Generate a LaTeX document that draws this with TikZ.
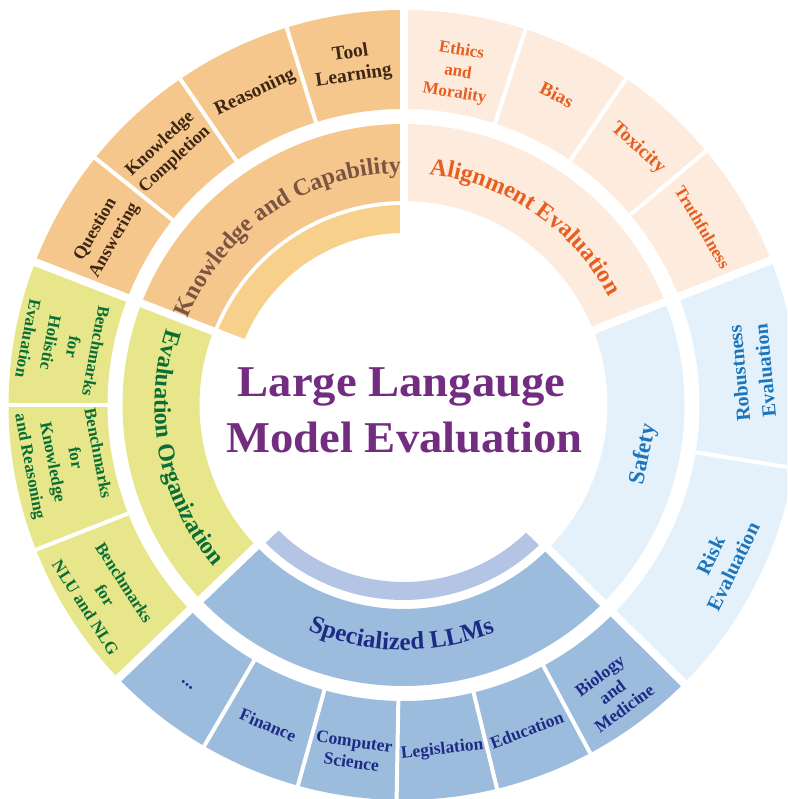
\documentclass[tikz,border=0pt]{standalone}
\usepackage{fontspec}
\setmainfont{Liberation Serif}
\usetikzlibrary{decorations.text}

\definecolor{kFill}{HTML}{F6C78C}
\definecolor{kInner}{HTML}{F7D18B}
\definecolor{kTxt}{HTML}{3E2614}
\definecolor{kMid}{HTML}{7B5442}
\definecolor{aFill}{HTML}{FDEBDD}
\definecolor{aTxt}{HTML}{E85E1F}
\definecolor{sFill}{HTML}{E4F1FA}
\definecolor{sTxt}{HTML}{1B76BE}
\definecolor{pFill}{HTML}{9CBCDE}
\definecolor{pInner}{HTML}{B3C4E5}
\definecolor{pTxt}{HTML}{1E2B86}
\definecolor{eFill}{HTML}{E8E68B}
\definecolor{eTxt}{HTML}{0A6E37}
\definecolor{titleC}{HTML}{722D80}

% annular sector: colour, start angle, end angle, inner radius, outer radius
\newcommand\annsec[5]{%
  \fill[#1] (#2:#4pt) arc[start angle=#2, end angle=#3, radius=#4pt]
    -- (#3:#5pt) arc[start angle=#3, end angle=#2, radius=#5pt] -- cycle;}
\newcommand\midfont{\bfseries\fontsize{24}{24}\selectfont}
\newcommand\specfont{\bfseries\fontsize{25}{25}\selectfont}

\begin{document}
\begin{tikzpicture}[x=1pt,y=1pt,
  lab/.style={align=center, inner sep=0pt},
  kLab/.style={lab, text=kTxt, font=\bfseries\fontsize{18}{21.5}\selectfont},
  aLab/.style={lab, text=aTxt, font=\bfseries\fontsize{17}{21.5}\selectfont},
  sLab/.style={lab, text=sTxt, font=\bfseries\fontsize{20}{26}\selectfont},
  eLab/.style={lab, text=eTxt, font=\bfseries\fontsize{17}{23}\selectfont},
  pLab/.style={lab, text=pTxt, font=\bfseries\fontsize{17.5}{20.5}\selectfont},
  titleSt/.style={inner sep=0pt, text=titleC, font=\bfseries\fontsize{44}{50}\selectfont, xscale=1.06},
  bigGap/.style={white, line width=8pt},
  smallGap/.style={white, line width=4pt}]
\useasboundingbox (-403.5,-394) rectangle (383.5,405);
\clip (-403.5,-394) rectangle (383.5,405);

% ---- rings ----
% Knowledge and Capability
\annsec{kFill}{90}{158.8}{296}{395}
\annsec{kFill}{90}{158.8}{204}{281}
\annsec{kInner}{90}{158.8}{172}{200}
% Evaluation Organization
\annsec{eFill}{158.8}{223.8}{296}{395}
\annsec{eFill}{158.8}{223.8}{204}{281}
% Specialized LLMs
\annsec{pFill}{223.8}{315.2}{296}{395}
\annsec{pFill}{223.8}{315.2}{204}{281}
\annsec{pInner}{223.8}{315.2}{177}{195}
% Safety
\annsec{sFill}{315.2}{381.5}{296}{395}
\annsec{sFill}{315.2}{381.5}{204}{281}
% Alignment Evaluation
\annsec{aFill}{21.5}{90}{296}{395}
\annsec{aFill}{21.5}{90}{204}{281}

% ---- separators ----
\foreach \a in {90,158.8,223.8,315.2,21.5}
  \draw[bigGap] (\a:160pt) -- (\a:410pt);
\foreach \a in {107.2,124.4,141.3,72,55.7,40,-9.2,180,201.5,239.7,254.5,269,283.7,298.2}
  \draw[smallGap] (\a:288pt) -- (\a:410pt);

% ---- curved middle labels ----
\path[decorate, decoration={text along path, text align=center, text color=kMid,
  text={|\midfont|Knowledge and Capability}}]
  (160:232pt) arc[start angle=160, end angle=88.8, radius=232pt];
\path[decorate, decoration={text along path, text align=center, text color=aTxt,
  text={|\midfont|Alignment Evaluation}}]
  (91:232pt) arc[start angle=91, end angle=20.5, radius=232pt];
\path[decorate, decoration={text along path, text align=center, text color=eTxt,
  text={|\midfont|Evaluation Organization}}]
  (157:249pt) arc[start angle=157, end angle=225.6, radius=249pt];
\path[decorate, decoration={text along path, text align=center, text color=pTxt,
  text={|\specfont|Specialized LLMs}}]
  (223:245pt) arc[start angle=223, end angle=316, radius=245pt];
\node[lab, text=sTxt, font=\bfseries\fontsize{23}{23}\selectfont, rotate=78.4] (safety) at (-11.6:245pt) {Safety};

% ---- outer labels ----
\node[kLab, font=\bfseries\fontsize{19.5}{23}\selectfont, rotate=8.6] (tool) at (98.6:344pt) {Tool\\Learning};
\node[kLab, font=\bfseries\fontsize{19.5}{23}\selectfont, rotate=25.4] (reason) at (115.4:346pt) {Reasoning};
\node[kLab, rotate=43] (kcomp) at (133:346pt) {Knowledge\\Completion};
\node[kLab, rotate=60.3] (qa) at (150.3:343.5pt) {Question\\Answering};

\node[aLab, rotate=-9.3] (ethics) at (80.7:337pt) {Ethics\\and\\Morality};
\node[aLab, font=\bfseries\fontsize{19}{22}\selectfont, rotate=-26.3] (bias) at (63.7:346pt) {Bias};
\node[aLab, font=\bfseries\fontsize{19.5}{22}\selectfont, rotate=-42.4] (toxic) at (47.6:348pt) {Toxicity};
\node[aLab, rotate=-59.3] (truth) at (30.7:348pt) {Truthfulness};

\node[sLab, rotate=95.4] (robust) at (5.4:350pt) {Robustness\\Evaluation};
\node[sLab, font=\bfseries\fontsize{20.5}{25}\selectfont, rotate=63.9] (risk) at (-26.1:354.6pt) {Risk\\Evaluation};

\node[eLab, rotate=-100.6] (holist) at (170:346.7pt) {Benchmarks\\for\\Holistic\\Evaluation};
\node[eLab, rotate=-79.25] (kr) at (189.2:345pt) {Benchmarks\\for\\Knowledge\\and Reasoning};
\node[eLab, rotate=-57.4] (nlu) at (212.5:354pt) {Benchmarks\\for\\NLU and NLG};

\node[pLab, font=\bfseries\fontsize{18}{20}\selectfont, rotate=-38.25] (dots) at (232.3:354pt) {...};
\node[pLab, rotate=-22.9] (fin) at (247.05:347.5pt) {Finance};
\node[pLab, rotate=-8.25] (cs) at (261.7:350.6pt) {Computer\\Science};
\node[pLab, rotate=6.35] (legis) at (276.4:347pt) {Legislation};
\node[pLab, rotate=20.95] (edu) at (290.8:347.7pt) {Education};
\node[pLab, rotate=36.7] (bio) at (306:354.7pt) {Biology\\and\\Medicine};

% ---- title ----
\node[titleSt, anchor=base] (t1) at (-2,8) {Large Langauge};
\node[titleSt, anchor=base] (t2) at (1,-48) {Model Evaluation};
\end{tikzpicture}
\end{document}
